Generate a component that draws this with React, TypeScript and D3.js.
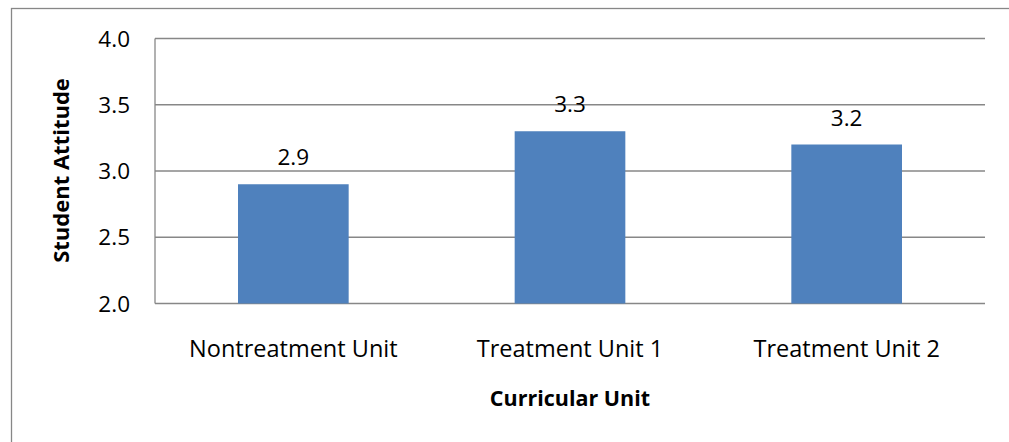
import React from "react";
import * as d3 from "d3";

const categories = ["Nontreatment Unit", "Treatment Unit 1", "Treatment Unit 2"];
const values = [2.9, 3.3, 3.2];
const yTicks = [2.0, 2.5, 3.0, 3.5, 4.0];
const xTitle = "Curricular Unit";
const yTitle = "Student Attitude";

const W = 1009;
const H = 442;
const plot = { left: 155, right: 985, top: 38.5, bottom: 303.5 };
const FONT = "'Open Sans', 'Noto Sans', sans-serif";
const GRID = "#878787";
const BAR = "#4F81BD";

export default function App() {
  const x = d3.scaleBand<string>().domain(categories).range([plot.left, plot.right]).padding(0);
  const y = d3.scaleLinear().domain([2, 4]).range([plot.bottom, plot.top]);
  const bw = x.bandwidth();
  const barW = bw * 0.4;

  return (
    <svg
      width={W}
      height={H}
      style={{ position: "fixed", left: 0, top: 0, background: "#fff" }}
      fontFamily={FONT}
    >
      <rect x={0} y={0} width={W} height={H} fill="#fff" />
      <rect x={11.5} y={8.5} width={W + 20} height={H + 20} fill="none" stroke={GRID} strokeWidth={1.3} />

      {yTicks.map((t) => (
        <line key={"g" + t} x1={plot.left} x2={plot.right} y1={y(t)} y2={y(t)} stroke={GRID} strokeWidth={1.3} />
      ))}
      <line x1={plot.left} x2={plot.left} y1={plot.top} y2={plot.bottom} stroke={GRID} strokeWidth={1.3} />

      {categories.map((c, i) => (
        <rect
          key={c}
          x={(x(c) as number) + (bw - barW) / 2}
          y={y(values[i])}
          width={barW}
          height={y(2) - y(values[i])}
          fill={BAR}
        />
      ))}

      {categories.map((c, i) => (
        <text
          key={"v" + c}
          x={(x(c) as number) + bw / 2}
          y={y(values[i]) - 19}
          textAnchor="middle"
          fontSize={22.5}
          fill="#000"
        >
          {d3.format(".1f")(values[i])}
        </text>
      ))}

      {yTicks.map((t) => (
        <text key={"t" + t} x={130} y={y(t) + 8} textAnchor="end" fontSize={22.5} fill="#000">
          {d3.format(".1f")(t)}
        </text>
      ))}

      {categories.map((c) => (
        <text
          key={"c" + c}
          x={(x(c) as number) + bw / 2}
          y={357}
          textAnchor="middle"
          fontSize={23.5}
          fill="#000"
        >
          {c}
        </text>
      ))}

      <text x={(plot.left + plot.right) / 2} y={406} textAnchor="middle" fontSize={21.5} fontWeight="bold" fill="#000">
        {xTitle}
      </text>
      <text
        transform={`translate(69, ${(78 + 263) / 2}) rotate(-90)`}
        textAnchor="middle"
        fontSize={22}
        fontWeight="bold"
        fill="#000"
      >
        {yTitle}
      </text>
    </svg>
  );
}
